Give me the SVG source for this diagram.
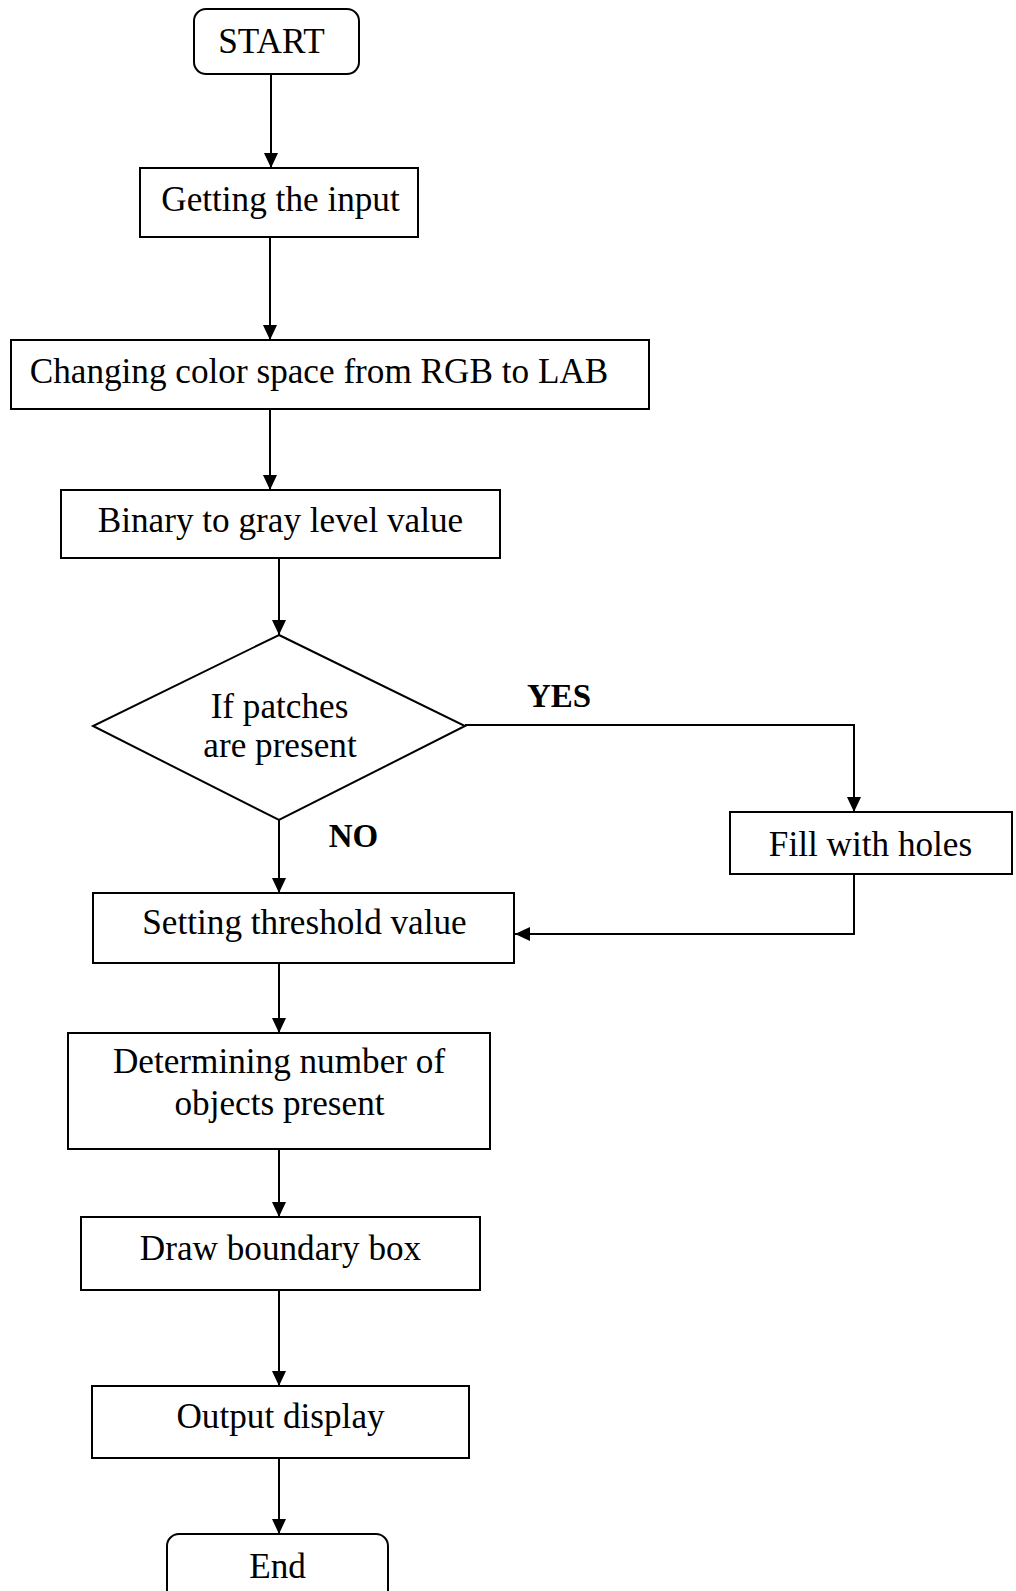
<svg xmlns="http://www.w3.org/2000/svg" width="1016" height="1591" viewBox="0 0 1016 1591">
<style>
.box{fill:#fff;stroke:#000;stroke-width:2}
.lbl{font-family:"Liberation Serif","Times New Roman",serif;font-size:35.2px;fill:#000;text-anchor:middle}
.b{font-weight:bold;font-size:33px}
.con{fill:none;stroke:#000;stroke-width:2}
</style>
<defs>
<marker id="ah" markerUnits="userSpaceOnUse" markerWidth="16" markerHeight="16" refX="15" refY="7" orient="auto">
<path d="M0,0 L15,7 L0,14 z" fill="#000"/>
</marker>
</defs>
<rect width="1016" height="1591" fill="#fff"/>
<g id="connectors">
<path class="con" d="M271,74 V168" marker-end="url(#ah)"/>
<path class="con" d="M270,237 V340" marker-end="url(#ah)"/>
<path class="con" d="M270,409 V490" marker-end="url(#ah)"/>
<path class="con" d="M279,558 V635" marker-end="url(#ah)"/>
<path class="con" d="M279,820 V893" marker-end="url(#ah)"/>
<path class="con" d="M465,725 H854 V812" marker-end="url(#ah)"/>
<path class="con" d="M854,874 V934 H515" marker-end="url(#ah)"/>
<path class="con" d="M279,963 V1033" marker-end="url(#ah)"/>
<path class="con" d="M279,1149 V1217" marker-end="url(#ah)"/>
<path class="con" d="M279,1290 V1386" marker-end="url(#ah)"/>
<path class="con" d="M279,1458 V1534" marker-end="url(#ah)"/>
<text class="lbl b" x="559" y="707">YES</text>
<text class="lbl b" x="353.5" y="847">NO</text>
</g>
<g id="start">
<rect class="box" x="194" y="9" width="165" height="65" rx="12"/>
<text class="lbl" x="271.5" y="53">START</text>
</g>
<g id="getting">
<rect class="box" x="140" y="168" width="278" height="69"/>
<text class="lbl" x="280.5" y="211">Getting the input</text>
</g>
<g id="changing">
<rect class="box" x="11" y="340" width="638" height="69"/>
<text class="lbl" x="319" y="383">Changing color space from RGB to LAB</text>
</g>
<g id="binary">
<rect class="box" x="61" y="490" width="439" height="68"/>
<text class="lbl" x="280.5" y="532">Binary to gray level value</text>
</g>
<g id="decision">
<polygon class="box" points="279,635 465,726 279,820 93,726"/>
<text class="lbl" x="279.5" y="718">If patches</text>
<text class="lbl" x="280" y="757">are present</text>
</g>
<g id="fill">
<rect class="box" x="730" y="812" width="282" height="62"/>
<text class="lbl" x="870.5" y="856">Fill with holes</text>
</g>
<g id="setting">
<rect class="box" x="93" y="893" width="421" height="70"/>
<text class="lbl" x="304.5" y="934">Setting threshold value</text>
</g>
<g id="determining">
<rect class="box" x="68" y="1033" width="422" height="116"/>
<text class="lbl" x="279" y="1073">Determining number of</text>
<text class="lbl" x="279.5" y="1115">objects present</text>
</g>
<g id="draw">
<rect class="box" x="81" y="1217" width="399" height="73"/>
<text class="lbl" x="280.5" y="1260">Draw boundary box</text>
</g>
<g id="output">
<rect class="box" x="92" y="1386" width="377" height="72"/>
<text class="lbl" x="280.5" y="1428">Output display</text>
</g>
<g id="end">
<rect class="box" x="167" y="1534" width="221" height="80" rx="12"/>
<text class="lbl" x="277.5" y="1578">End</text>
</g>
</svg>
